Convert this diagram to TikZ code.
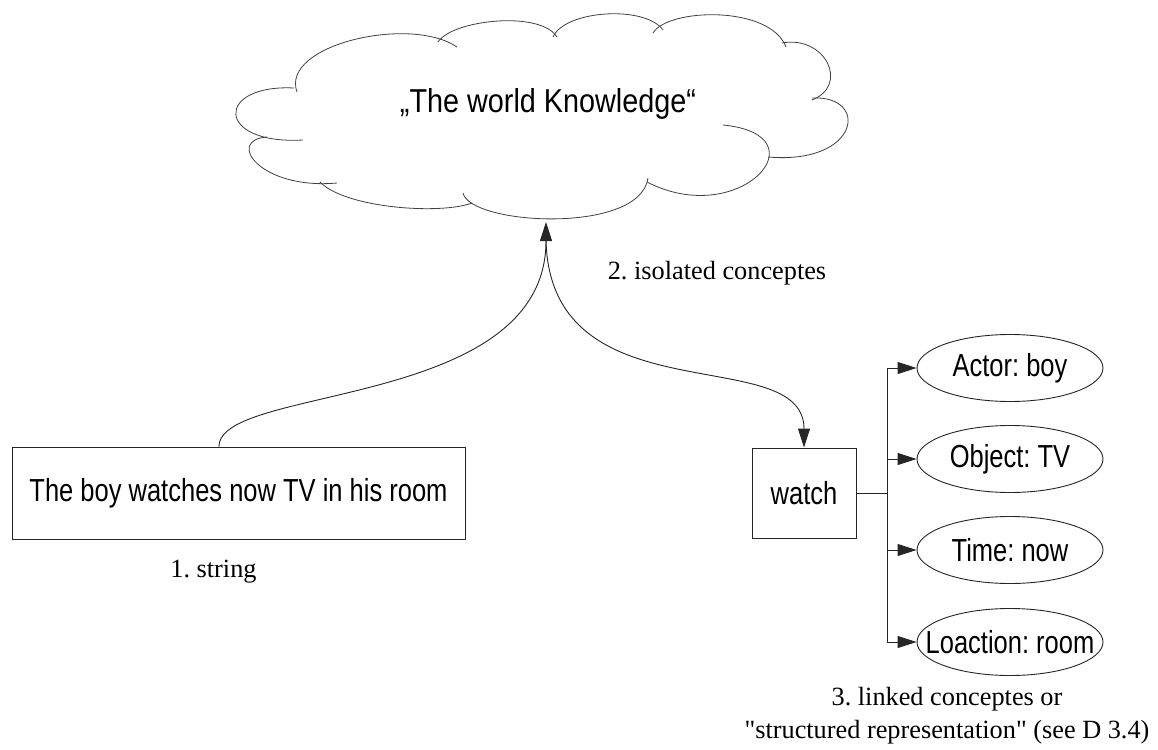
\documentclass[tikz,border=0pt]{standalone}
\usepackage{fontspec}
\setmainfont{Liberation Serif}[Ligatures=TeXOff]
\newfontfamily\arial{Liberation Sans}
\usetikzlibrary{arrows.meta,shapes.geometric}
\newcommand{\tallsans}[1]{\scalebox{1}[1.25]{#1}}
\newcommand{\ctext}[1]{\makebox[0pt][c]{\tallsans{#1}}}
\tikzset{
  ln/.style={line width=0.9pt, draw=black!85},
  sans/.style={font=\arial\fontsize{25.5}{30}\selectfont},
  lbl/.style={font=\fontsize{26.3}{33}\selectfont, align=center, inner sep=0pt},
  box/.style={ln, rectangle, sans, inner sep=0pt},
  concept/.style={ln, ellipse, sans, minimum width=186pt, minimum height=67pt, inner sep=0pt},
  arr/.style={ln, -{Triangle[length=19pt,width=12pt]}},
  cloudline/.style={line width=0.8pt, draw=black!75},
}
\begin{document}
\frenchspacing
\begin{tikzpicture}[x=1pt,y=-1pt]
\useasboundingbox (0,0) rectangle (1158,749);
% cloud outline (bumps)
\draw[cloudline] (294,88) .. controls (215,84) and (215,145) .. (303,140);
\draw[cloudline] (297,92) .. controls (280,45) and (410,15) .. (457,47);
\draw[cloudline] (438,42) .. controls (452,20) and (540,10) .. (557,37);
\draw[cloudline] (553,37) .. controls (565,10) and (645,5) .. (663,30);
\draw[cloudline] (653,33) .. controls (668,8) and (770,5) .. (786,47);
\draw[cloudline] (782,43) .. controls (825,35) and (850,85) .. (812,100);
\draw[cloudline] (812,98) .. controls (870,95) and (860,165) .. (768,157);
\draw[cloudline] (723,125) .. controls (825,135) and (740,230) .. (647,182);
\draw[cloudline] (648,178) .. controls (640,235) and (470,225) .. (463,193);
\draw[cloudline] (320,182) .. controls (345,208) and (440,215) .. (472,203);
\draw[cloudline] (267,137) .. controls (225,140) and (260,190) .. (337,183);
\node[font=\arial\fontsize{28.8}{34}\selectfont, inner sep=0pt] (knowledge) at (548,104) {\scalebox{1}[1.15]{„The world Knowledge“}};
\coordinate (cloudtip) at (546,222);
\coordinate (cloudbase) at (546,240);

% nodes
\node[box, minimum width=453pt, minimum height=92pt] (sentence) at (238.5,493) {\tallsans{The boy watches now TV in his room}};
\node[box, minimum width=104pt, minimum height=90pt] (watch) at (804,493) {\tallsans{watch}};
\node[concept] (actor) at (1010,368) {\ctext{Actor: boy}};
\node[concept] (object) at (1010,459) {\ctext{Object: TV}};
\node[concept] (time) at (1010,550) {\ctext{Time: now}};
\node[concept] (location) at (1010,642) {\ctext{Loaction: room}};
\coordinate (junction) at (887,493);

% connectors
\draw[arr] ([xshift=-19.5pt]sentence.north) .. controls +(0,-62) and +(0,188) .. (cloudtip);
\draw[arr] (cloudbase) .. controls +(4,180) and +(0,-107) .. (watch.north);
\draw[ln] (watch.east) -- (junction);
\draw[arr] (junction) |- (actor.west);
\draw[arr] (junction) |- (object.west);
\draw[arr] (junction) |- (time.west);
\draw[arr] (junction) |- (location.west);

% labels
\node[lbl] (l1) at (213.5,572) {1. string};
\node[lbl] (l2) at (717,273) {2. isolated conceptes};
\node[lbl] (l3) at (947,716) {3. linked conceptes or\\"structured representation" (see D 3.4)};
\end{tikzpicture}
\end{document}
